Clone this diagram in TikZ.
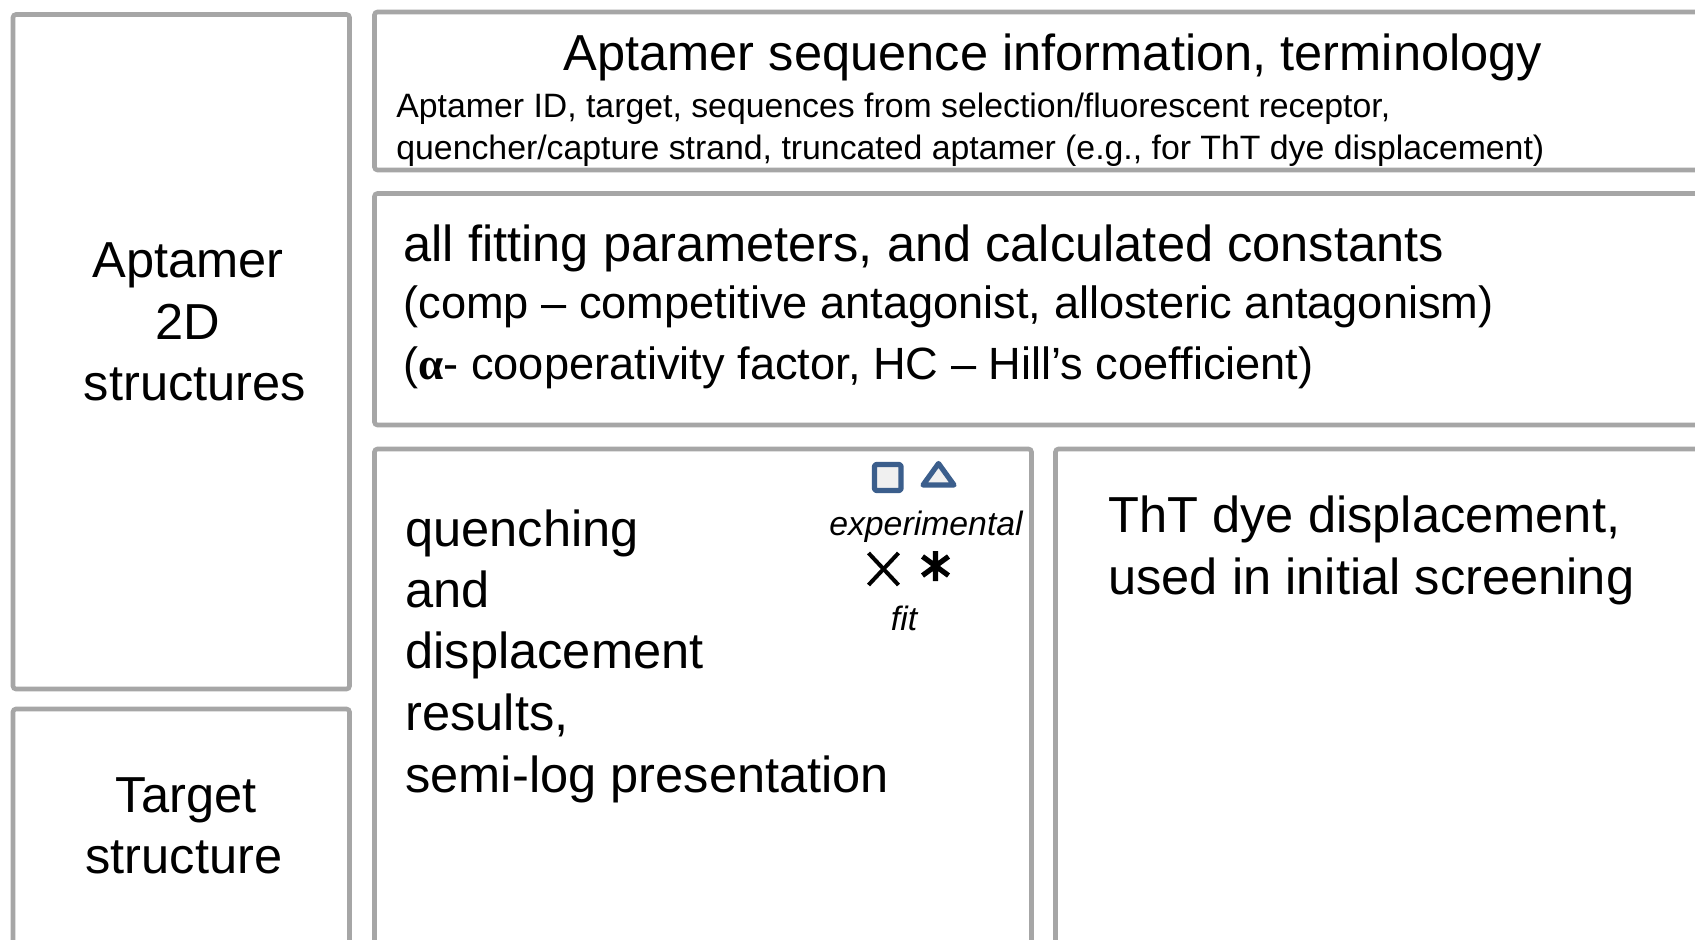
\documentclass[tikz,border=0pt]{standalone}
\usepackage{fontspec}
\setmainfont{Liberation Sans}
\newfontfamily\alphafont{Liberation Serif}
\definecolor{boxgray}{RGB}{166,166,166}
\definecolor{mkblue}{RGB}{59,94,140}
\definecolor{mkfill}{RGB}{240,240,240}
\tikzset{
  panel/.style={draw=boxgray, line width=2.3pt, rounded corners=1.5pt},
  bigtxt/.style={font=\fontsize{25.3}{30}\selectfont, inner sep=0pt},
  midtxt/.style={font=\fontsize{22.6}{27}\selectfont, inner sep=0pt},
  smalltxt/.style={font=\fontsize{16.9}{20}\selectfont, inner sep=0pt},
  legtxt/.style={font=\fontsize{16.9}{20}\selectfont\itshape, inner sep=0pt},
  marker/.style={draw=mkblue, fill=mkfill, line width=2.6pt, line join=round},
  fitmark/.style={draw=black, line width=2pt},
}
\begin{document}
\begin{tikzpicture}[x=0.5pt,y=-0.5pt]
\useasboundingbox (0,0) rectangle (1695,940);
\clip (0,0) rectangle (1695,940);
\fill[white] (0,0) rectangle (1695,940);
% panels
\draw[panel] (13,14.5) rectangle (349.5,689);
\draw[panel] (13,709) rectangle (349.5,990);
\draw[panel] (374.5,12) rectangle (1740,170);
\draw[panel] (374.5,193.5) rectangle (1740,425);
\draw[panel] (374.5,449) rectangle (1031.5,990);
\draw[panel] (1055.5,449) rectangle (1740,990);
% top panel
\node[bigtxt, anchor=base] (title) at (1053,71) {Aptamer sequence information, terminology};
\node[smalltxt, anchor=base west] (info1) at (396,117.5) {Aptamer ID, target, sequences from selection/fluorescent receptor,};
\node[smalltxt, anchor=base west] (info2) at (396,159.5) {quencher/capture strand, truncated aptamer (e.g., for ThT dye displacement)};
% fitting panel
\node[bigtxt, anchor=base west] (fit1) at (403,262) {all fitting parameters, and calculated constants};
\node[midtxt, anchor=base west] (fit2) at (403,318.5) {(comp – competitive antagonist, allosteric antagonism)};
\node[midtxt, anchor=base west] (fit3) at (403,380) {({\alphafont\bfseries α}- cooperativity factor, HC – Hill’s coefficient)};
% left panels
\node[bigtxt, anchor=base] (ap1) at (188,278) {Aptamer};
\node[bigtxt, anchor=base] (ap2) at (188,339.5) {2D};
\node[bigtxt, anchor=base] (ap3) at (195,401) {structures};
\node[bigtxt, anchor=base] (tg1) at (186,812) {Target};
\node[bigtxt, anchor=base] (tg2) at (184,873) {structure};
% quenching panel
\node[bigtxt, anchor=base west] (q1) at (405,546) {quenching};
\node[bigtxt, anchor=base west] (q2) at (405,607) {and};
\node[bigtxt, anchor=base west] (q3) at (405,668) {displacement};
\node[bigtxt, anchor=base west] (q4) at (405,730) {results,};
\node[bigtxt, anchor=base west] (q5) at (405,792) {semi-log presentation};
% legend
\draw[marker, rounded corners=1pt] (874.5,464.5) rectangle (901,490.5);
\draw[marker] (938.5,463.5) -- (954,485) -- (923,485) -- cycle;
\node[legtxt, anchor=base] (exp) at (926,535) {experimental};
\draw[fitmark] (868.5,553) -- (898.5,585) (868.5,585) -- (898.5,553);
\draw[fitmark, line width=2.6pt] (935.5,551) -- (935.5,581) (922.5,556.5) -- (948.5,575.5) (922.5,575.5) -- (948.5,556.5);
\node[legtxt, anchor=base] (fitlbl) at (904,630) {fit};
% ThT panel
\node[bigtxt, anchor=base west] (tht1) at (1108,532) {ThT dye displacement,};
\node[bigtxt, anchor=base west] (tht2) at (1108,594) {used in initial screening};
\end{tikzpicture}
\end{document}
